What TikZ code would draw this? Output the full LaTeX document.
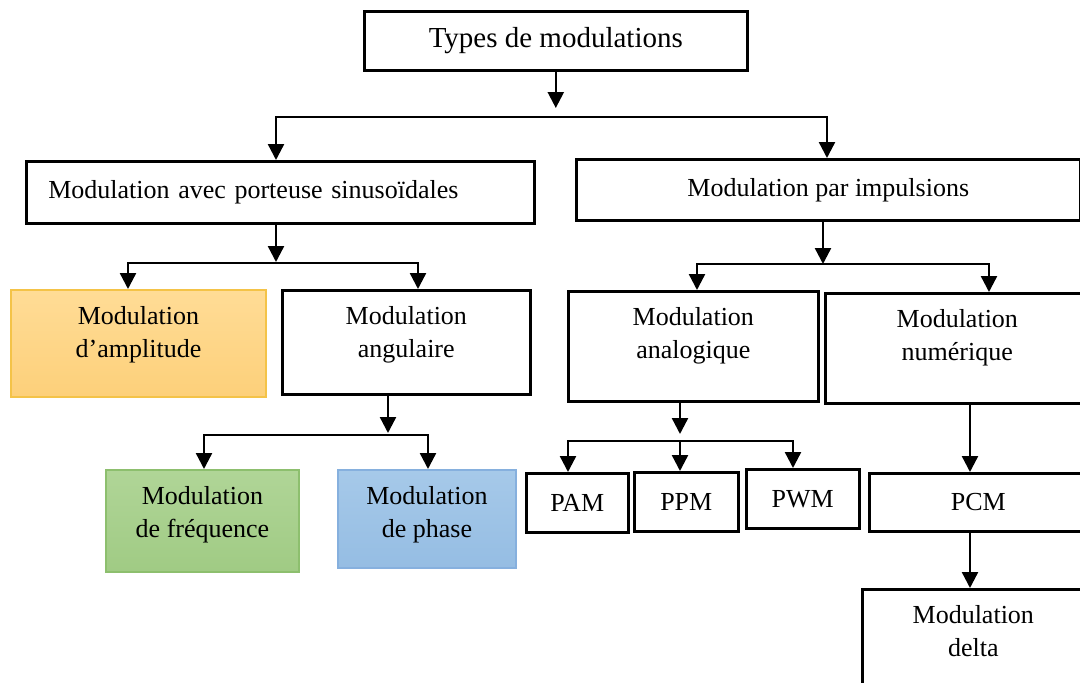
\documentclass[tikz,border=0pt]{standalone}
\usepackage{fontspec}
\setmainfont{Liberation Serif}
\usetikzlibrary{arrows.meta}
\definecolor{ambtop}{HTML}{FFDC96}
\definecolor{ambbot}{HTML}{FDD07A}
\definecolor{ambdraw}{HTML}{F4C348}
\definecolor{grtop}{HTML}{B0D597}
\definecolor{grbot}{HTML}{A0CB84}
\definecolor{grdraw}{HTML}{8DBF6E}
\definecolor{bltop}{HTML}{A6C9E9}
\definecolor{blbot}{HTML}{95BDE3}
\definecolor{bldraw}{HTML}{86B0DE}
\newcommand\mtwo[3]{\raisebox{#1}[\height][\depth]{\begin{tabular}{@{}c@{}}#2\\#3\end{tabular}}}
\begin{document}
\begin{tikzpicture}[x=1pt,y=-1pt,
  box/.style={draw=black, line width=2.6pt, rectangle, inner sep=0pt,
    font=\fontsize{26}{33}\selectfont, anchor=north west},
  amb/.style={draw=ambdraw, line width=2pt, top color=ambtop, bottom color=ambbot},
  grn/.style={draw=grdraw, line width=2pt, top color=grtop, bottom color=grbot},
  blu/.style={draw=bldraw, line width=2pt, top color=bltop, bottom color=blbot},
  arr/.style={line width=2.4pt, -{Triangle[width=16pt,length=16pt]}},
  ln/.style={line width=2.4pt}]
\useasboundingbox (0,0) rectangle (1080,683);
\fill[white] (0,0) rectangle (1080,683);
\clip (0,0) rectangle (1080,683);
% boxes
\node[box, minimum width=383pt, minimum height=59pt, font=\fontsize{29}{33}\selectfont] (top) at (363,10) {Types de modulations};
\node[box, minimum width=508pt, minimum height=62pt, text width=464pt, inner xsep=22pt, align=left] (sin) at (25,160) {\mbox{Modulation avec porteuse sinusoïdales}};
\node[box, minimum width=504pt, minimum height=61pt] (imp) at (575,158) {Modulation par impulsions};
\node[box, amb, minimum width=255pt, minimum height=107pt] (amp) at (10,289) {\mtwo{9pt}{Modulation}{d’amplitude}};
\node[box, minimum width=248pt, minimum height=104pt] (ang) at (281,289) {\mtwo{7.5pt}{Modulation}{angulaire}};
\node[box, grn, minimum width=193pt, minimum height=102pt] (freq) at (105,469) {\mtwo{6.5pt}{Modulation}{de fréquence}};
\node[box, blu, minimum width=178pt, minimum height=98pt] (phase) at (337,469) {\mtwo{4.5pt}{Modulation}{de phase}};
\node[box, minimum width=250pt, minimum height=110pt] (ana) at (567,290) {\mtwo{10.5pt}{Modulation}{analogique}};
\node[box, minimum width=264pt, minimum height=110pt] (num) at (824,292) {\mtwo{10.5pt}{Modulation}{numérique}};
\node[box, minimum width=102pt, minimum height=59pt] (pam) at (525,472) {PAM};
\node[box, minimum width=104pt, minimum height=59pt] (ppm) at (633,471) {PPM};
\node[box, minimum width=113pt, minimum height=59pt] (pwm) at (745,468) {PWM};
\node[box, minimum width=218pt, minimum height=58pt] (pcm) at (868,472) {PCM};
\node[box, minimum width=222pt, minimum height=120pt] (delta) at (861,588) {\mtwo{15.5pt}{Modulation}{delta}};
% junctions
\coordinate (j1) at (555,117);
\coordinate (j1l) at (276,0);
\coordinate (j1r) at (827,0);
\coordinate (j2) at (276,263);
\coordinate (j2l) at (128,0);
\coordinate (j2r) at (418,0);
\coordinate (j3) at (388,435);
\coordinate (j3l) at (204,0);
\coordinate (j3r) at (428,0);
\coordinate (j4) at (823,264);
\coordinate (j4l) at (697,0);
\coordinate (j4r) at (989,0);
\coordinate (j5) at (680,441);
\coordinate (j5l) at (568,0);
\coordinate (j5r) at (793,0);
\coordinate (k6) at (970,0);
% connectors
\draw[arr, shorten >=9pt] (top.south) -- (top.south |- j1);
\draw[arr] (j1) -| (j1l |- sin.north);
\draw[arr] (j1) -| (j1r |- imp.north);
\draw[arr, shorten >=1pt] (j2 |- sin.south) -- (j2);
\draw[arr] (j2) -| (j2l |- amp.north);
\draw[arr] (j2) -| (j2r |- ang.north);
\draw[arr, shorten >=2pt] (j3 |- ang.south) -- (j3);
\draw[arr] (j3) -| (j3l |- freq.north);
\draw[arr] (j3) -| (j3r |- phase.north);
\draw[arr] (j4 |- imp.south) -- (j4);
\draw[arr] (j4) -| (j4l |- ana.north);
\draw[arr] (j4) -| (j4r |- num.north);
\draw[arr, shorten >=7pt] (j5 |- ana.south) -- (j5);
\draw[arr] (j5) -| (j5l |- pam.north);
\draw[arr] (j5) -- (j5 |- ppm.north);
\draw[arr] (j5) -| (j5r |- pwm.north);
\draw[arr] (k6 |- num.south) -- (k6 |- pcm.north);
\draw[arr] (k6 |- pcm.south) -- (k6 |- delta.north);
\end{tikzpicture}
\end{document}
